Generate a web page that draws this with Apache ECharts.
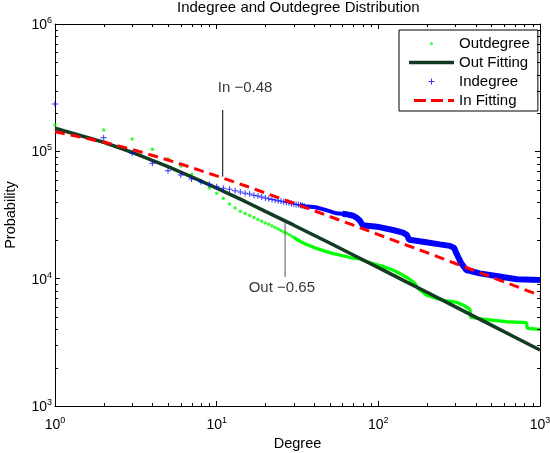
<!DOCTYPE html>
<html><head><meta charset="utf-8">
<script src="https://cdn.jsdelivr.net/npm/echarts@6/dist/echarts.min.js"></script>
<style>html,body{margin:0;padding:0;background:#fff}#c{width:550px;height:453px}</style>
</head><body><div id="c"></div>
<script>
// ---- data ----
var xRange = [1, 1000];
var yRange = [1000, 1000000];
var xMinorTicks = [2,3,4,5,6,7,8,9,20,30,40,50,60,70,80,90,200,300,400,500,600,700,800,900];
var yMinorTicks = [2000,3000,4000,5000,6000,7000,8000,9000,20000,30000,40000,50000,60000,70000,80000,90000,200000,300000,400000,500000,600000,700000,800000,900000];

var outDegrees = [1,2,3,4,5,6,7,8,9,10,11,12,13,14,15,16,17,18,19,20,21,22,23,24,25,26,27,28,29,30];
var outValues = [161000,147200,125000,103800,87100,76700,66100,57800,51500,46800,42800,38500,35900,33900,32500,31300,30200,29200,28300,27400,26700,25900,25200,24500,23900,23300,22800,22200,21600,21100];
var outTailDegrees = [30,32,36,41,46,52,60,67,77,85,107,123,133,153,168,176,198,228,265,304,334,369,372,445,619,825,835,1000];
var outTailValues = [21100,19950,18540,17380,16520,15810,15140,14660,14290,13580,12420,11700,11140,10070,9200,8390,7450,7010,6680,6530,6210,5740,4980,4800,4590,4510,4070,4000];

var inDegrees = [1,2,3,4,5,6,7,8,9,10,11,12,13,14,15,16,17,18,19,20,21,22,23,24,25,26,27,28,29,30,31,32,33,34,35];
var inValues = [235500,127900,96400,80500,70500,65200,60700,57800,55100,52700,51300,50400,49100,48000,46800,46200,45200,44600,43700,43000,42400,41900,41400,40900,40500,40100,39700,39400,39000,38600,38300,38000,37700,37400,37100];
var inMidDegrees = [33,35,41,47,55,63];
var inMidValues = [37700,37100,36400,34700,32600,32100];
var inTailDegrees = [60,63,70,74,77,80,98,123,142,150,155,189,240,277,295,304,326,350,424,537,718,1000];
var inTailValues = [32300,32100,31200,29900,28500,26300,25600,24100,23000,22100,20200,19500,18600,18100,17400,15800,13200,11700,11000,10500,9890,9770];

var fitX = [1,2,3,5,7,10,15,20,30,50,70,100,150,200,300,500,700,1000];
var outFitValues = [151700,117800,98200,75900,63000,51400,40400,33800,26300,19050,15350,12220,9400,7820,6010,4320,3470,2750];
var inFitValues = [142600,118300,103500,85500,74600,64100,53700,47100,39100,30800,26300,22200,18300,16000,13150,10300,8770,7400];

var annotInLine = [[10.9, 211000], [10.9, 63300]];
var annotOutLine = [[26.5, 27900], [26.5, 10300]];
var annotTexts = [{name: 'In \u22120.48', value: [15, 314000]}, {name: 'Out \u22120.65', value: [25.3, 8460]}];

var legendNames = ['Outdegree', 'Out Fitting', 'Indegree', 'In Fitting'];

// ---- chart ----
function zip(xs, ys) { return xs.map(function (x, i) { return [x, ys[i]]; }); }
var FONT = '"Liberation Sans", Arial, Helvetica, sans-serif';
function tickFmt(v) {
  var e = Math.round(Math.log(v) / Math.LN10);
  return '{b|10}{s|' + e + '}';
}
var rich = {
  b: {fontSize: 14, fontFamily: FONT, color: '#000', lineHeight: 16, verticalAlign: 'bottom'},
  s: {fontSize: 9, fontFamily: FONT, color: '#000', lineHeight: 10, verticalAlign: 'top'}
};
function xAxisCfg(pos, labels) {
  return {
    type: 'log', logBase: 10, min: xRange[0], max: xRange[1], position: pos,
    name: labels ? 'Degree' : '', nameLocation: 'middle', nameGap: 26,
    nameTextStyle: {fontSize: 14.5, fontFamily: FONT, color: '#000'},
    axisLine: {show: true, onZero: false, lineStyle: {color: '#000', width: 1}},
    axisTick: {show: true, inside: true, length: 5, lineStyle: {color: '#000'}},
    axisLabel: {show: labels, formatter: tickFmt, rich: rich, margin: 10},
    splitLine: {show: false}, minorTick: {show: false}, minorSplitLine: {show: false}
  };
}
function yAxisCfg(pos, labels) {
  return {
    type: 'log', logBase: 10, min: yRange[0], max: yRange[1], position: pos,
    name: labels ? 'Probability' : '', nameLocation: 'middle', nameGap: 37,
    nameTextStyle: {fontSize: 14.5, fontFamily: FONT, color: '#000'},
    axisLine: {show: true, onZero: false, lineStyle: {color: '#000', width: 1}},
    axisTick: {show: true, inside: true, length: 5, lineStyle: {color: '#000'}},
    axisLabel: {show: labels, formatter: tickFmt, rich: rich, margin: 3},
    splitLine: {show: false}, minorTick: {show: false}, minorSplitLine: {show: false}
  };
}
var tickStyle = {stroke: '#000', lineWidth: 1};
var chart = echarts.init(document.getElementById('c'), null, {renderer: 'canvas'});
chart.setOption({
  animation: false,
  backgroundColor: '#fff',
  textStyle: {fontFamily: FONT},
  title: {text: 'Indegree and Outdegree Distribution', left: 177, top: 0, padding: 0,
    textStyle: {fontSize: 15, fontWeight: 'normal', fontFamily: FONT, color: '#000'}},
  grid: {left: 55, right: 10, top: 24, bottom: 47, containLabel: false, outerBoundsMode: 'none'},
  xAxis: [xAxisCfg('bottom', true), xAxisCfg('top', false)],
  yAxis: [yAxisCfg('left', true), yAxisCfg('right', false)],
  legend: {
    data: [
      {name: 'Outdegree', icon: 'path://M0,0M45,0M45,14M0,14M21,7a1.5,1.5 0 1,0 3,0a1.5,1.5 0 1,0 -3,0z'},
      {name: 'Out Fitting', icon: 'path://M0,0M45,0M45,14M0,14M0,5.25h45v3.5h-45z'},
      {name: 'Indegree', icon: 'path://M0,0M45,0M45,14M0,14M19.5,6.5h6v1h-6zM22,4h1v6h-1z'},
      {name: 'In Fitting', icon: 'path://M0,0M45,0M45,14M0,14M5,5.5h12v3h-12zM22,5.5h12v3h-12zM39,5.5h6v3h-6z'}
    ],
    orient: 'vertical', left: 399, top: 30, padding: [6, 8, 3, 10],
    itemWidth: 45, itemHeight: 14, itemGap: 4, itemTextGap: 6,
    borderColor: '#000', borderWidth: 1, backgroundColor: '#fff',
    selectedMode: false,
    textStyle: {fontSize: 15, fontFamily: FONT, color: '#000'}
  },
  series: [
    {name: 'Outdegree', type: 'scatter', data: zip(outDegrees, outValues),
      symbol: 'circle', symbolSize: 3.5, itemStyle: {color: '#00ff00'}, z: 2},
    {name: 'Outdegree dense', type: 'line', data: zip(outTailDegrees, outTailValues),
      showSymbol: false, symbol: 'none', lineStyle: {color: '#00ff00', width: 3.3}, z: 2},
    {name: 'Out Fitting', type: 'line', data: zip(fitX, outFitValues), smooth: false,
      showSymbol: false, symbol: 'none', lineStyle: {color: '#123c22', width: 3.5}, itemStyle: {color: '#123c22'}, z: 3},
    {name: 'Indegree', type: 'scatter', data: zip(inDegrees, inValues),
      symbol: 'path://M0,2.5h6v1h-6zM2.5,0h1v6h-1z', symbolSize: 6, itemStyle: {color: '#0000ff'}, z: 4},
    {name: 'Indegree mid', type: 'line', data: zip(inMidDegrees, inMidValues),
      showSymbol: false, symbol: 'none', lineStyle: {color: '#0000ff', width: 4}, z: 4},
    {name: 'Indegree dense', type: 'line', data: zip(inTailDegrees, inTailValues),
      showSymbol: false, symbol: 'none', lineStyle: {color: '#0000ff', width: 6}, z: 4},
    {name: 'In Fitting', type: 'line', data: zip(fitX, inFitValues),
      showSymbol: false, symbol: 'none', lineStyle: {color: '#ff0000', width: 3, type: [10, 6]}, itemStyle: {color: '#ff0000'}, z: 5},
    {name: 'annotIn', type: 'line', data: annotInLine, showSymbol: false, symbol: 'none', silent: true,
      lineStyle: {color: '#000', width: 1}, z: 6},
    {name: 'annotOut', type: 'line', data: annotOutLine, showSymbol: false, symbol: 'none', silent: true,
      lineStyle: {color: '#555', width: 1}, z: 6},
    {name: 'annotText', type: 'scatter', data: annotTexts, symbol: 'circle', symbolSize: 1, silent: true,
      itemStyle: {color: 'rgba(0,0,0,0)'}, z: 7,
      label: {show: true, position: 'inside', formatter: '{b}', fontSize: 15, fontFamily: FONT, color: '#000'}},
    {name: 'xMinor', type: 'custom', data: xMinorTicks.map(function (v) { return [v, yRange[0]]; }), silent: true, z: 8,
      renderItem: function (params, api) {
        var v = api.value(0);
        var b = api.coord([v, yRange[0]]), t = api.coord([v, yRange[1]]);
        var x = Math.round(b[0]) + 0.5;
        return {type: 'group', children: [
          {type: 'line', shape: {x1: x, y1: b[1], x2: x, y2: b[1] - 3}, style: tickStyle},
          {type: 'line', shape: {x1: x, y1: t[1], x2: x, y2: t[1] + 3}, style: tickStyle}
        ]};
      }},
    {name: 'yMinor', type: 'custom', data: yMinorTicks.map(function (v) { return [xRange[0], v]; }), silent: true, z: 8,
      renderItem: function (params, api) {
        var v = api.value(1);
        var l = api.coord([xRange[0], v]), r = api.coord([xRange[1], v]);
        var y = Math.round(l[1]) + 0.5;
        return {type: 'group', children: [
          {type: 'line', shape: {x1: l[0], y1: y, x2: l[0] + 3, y2: y}, style: tickStyle},
          {type: 'line', shape: {x1: r[0], y1: y, x2: r[0] - 3, y2: y}, style: tickStyle}
        ]};
      }}
  ]
});
</script>
</body></html>
